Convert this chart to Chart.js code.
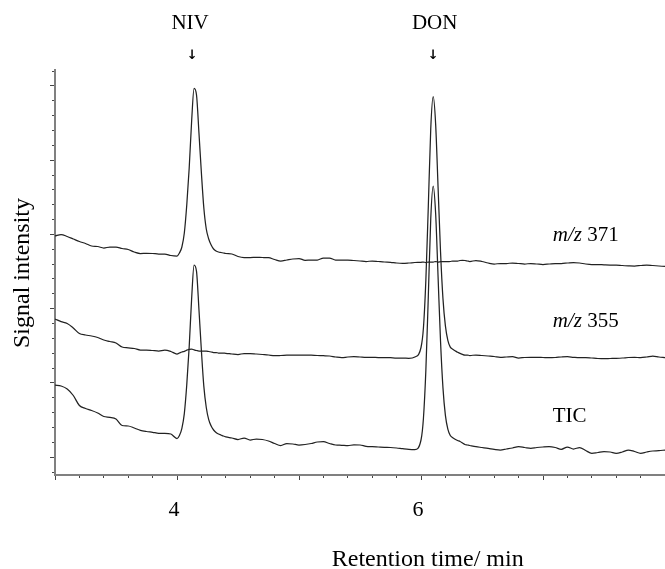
<!DOCTYPE html>
<html>
<head>
<meta charset="utf-8">
<style>
html,body{margin:0;padding:0;background:#fff;}
#wrap{width:665px;height:569px;position:relative;}
</style>
<script src="https://cdn.jsdelivr.net/npm/chart.js@4.4.1/dist/chart.umd.min.js"></script>
</head>
<body>
<div id="wrap"><canvas id="c" width="665" height="569"></canvas></div>
<script>
// Retention time (min)
const times = [
  3, 3.05, 3.1, 3.15, 3.2, 3.25, 3.3, 3.35, 3.4, 3.45, 3.5, 3.55, 3.6, 3.65, 3.7, 3.75, 3.8, 3.85, 3.9, 3.95,
  4, 4.02, 4.04, 4.06, 4.08, 4.1, 4.12, 4.14, 4.16, 4.18, 4.2, 4.22, 4.24, 4.26, 4.28, 4.3, 4.32, 4.34, 4.36, 4.38, 4.4,
  4.45, 4.5, 4.55, 4.6, 4.65, 4.7, 4.75, 4.8, 4.85, 4.9, 4.95, 5, 5.05, 5.1, 5.15, 5.2, 5.25, 5.3, 5.35, 5.4, 5.45, 5.5, 5.55, 5.6, 5.65, 5.7, 5.75, 5.8, 5.85, 5.9, 5.95,
  6, 6.02, 6.04, 6.06, 6.08, 6.1, 6.12, 6.14, 6.16, 6.18, 6.2, 6.22, 6.24, 6.26, 6.28, 6.3, 6.32, 6.34, 6.36, 6.38, 6.4,
  6.45, 6.5, 6.55, 6.6, 6.65, 6.7, 6.75, 6.8, 6.85, 6.9, 6.95, 7, 7.05, 7.1, 7.15, 7.2, 7.25, 7.3, 7.35, 7.4, 7.45, 7.5, 7.55, 7.6, 7.65, 7.7, 7.75, 7.8, 7.85, 7.9, 7.95, 8
];

// Signal intensity (arbitrary units, traces offset)
const mz371 = [
  236, 237.5, 235.5, 233, 230.5, 228.5, 226, 225.5, 224, 225, 225, 223.5, 222.5, 220, 218.5, 218.7, 218.5, 218, 218, 216.5,
  216, 219, 225, 239, 267, 304, 351, 383.7, 377, 339, 299, 264, 243, 233, 227, 223, 221, 220, 219.5, 219, 218.5,
  218, 215.5, 214.5, 214.5, 214.7, 214.5, 214.3, 212.5, 211, 212, 213, 213.5, 211.7, 212, 212, 214, 214, 212, 212, 212, 211.5, 211, 210.5, 211, 210.5, 210, 209.7, 209, 208.7, 209, 209.5,
  209.7, 210, 209.5, 210, 210, 210, 210.5, 210, 210.3, 210.5, 210.5, 210.3, 210.5, 211, 211, 211, 211.5, 211.7, 211.5, 211, 210.5,
  211.5, 210.5, 209, 208, 208.5, 208.5, 209, 208.5, 208, 208.5, 208, 207.5, 208, 208.5, 208.5, 209, 209.5, 209, 208, 207.5, 207.5, 207.2, 207, 207, 206.5, 206.2, 206, 206.5, 207, 206.5, 206, 205.5
];
const mz355 = [
  153, 150.3, 148.5, 144, 138.5, 137, 136, 134.5, 132, 130.5, 129, 125, 124.2, 123.5, 122, 122, 121.5, 121, 121.8, 120.5,
  118, 119, 120, 120.7, 121.8, 122.7, 123, 122.2, 121.5, 121, 121, 120.8, 121, 120.5, 120, 119.5, 119.5, 119, 119, 118.8, 118.7,
  118, 117.5, 118.5, 118.5, 118, 117.5, 117, 116.3, 116.5, 116.8, 117, 117, 117, 116.8, 116.5, 116.3, 116, 115, 114.3, 115, 115.3, 115, 114.7, 114.7, 114.5, 114.5, 114.3, 114, 114, 113.7, 115,
  124.5, 144.2, 192.5, 266, 343.5, 375.3, 347.9, 284.5, 220.6, 173.4, 146.1, 131.7, 124.9, 122.8, 121.2, 119.7, 118.6, 117.6, 117, 117, 116.5,
  117, 116.5, 116, 115.5, 114.7, 115, 115.3, 114, 114.5, 114.7, 114.7, 114.5, 114.3, 114.5, 115, 115.3, 114.7, 114.3, 114.5, 114, 113.5, 113.3, 113.5, 113.7, 114, 114.5, 114.7, 114.3, 115, 116, 115, 114.3
];
const tic = [
  87, 86, 83, 76.5, 66.5, 63.5, 61.5, 59, 55.5, 54.7, 53, 46.5, 46, 44, 41.7, 40.5, 39.7, 38.7, 38.7, 38,
  33.5, 36.5, 43.7, 58.4, 87.2, 125.4, 173.5, 207, 200.7, 162.3, 121.3, 85.6, 64.5, 52.3, 46, 42, 39.5, 38, 37, 36, 35.2,
  34, 32.5, 34, 32, 33, 32.5, 31, 28.5, 26.5, 28.5, 28, 27, 27.5, 28.5, 30, 30.3, 28.5, 27, 26.7, 26.3, 27.2, 27, 25.7, 25.3, 25, 24.7, 24.5, 24, 23.3, 22.7, 22.5,
  32, 53.8, 102.2, 176, 253.6, 286, 258.5, 195, 130.9, 84.1, 56.6, 42.8, 36.5, 34.3, 32.8, 31.5, 30.5, 29, 27.5, 27, 26.5,
  25.3, 24.5, 23.7, 22.7, 22, 23, 24, 25.3, 24.5, 23.7, 24.5, 25, 25.3, 24.5, 22.7, 25, 23, 24.5, 21.5, 18.7, 19.5, 20.3, 20, 18.7, 20, 22, 20.5, 18.7, 20, 21, 21.3, 22
];

const xTickLabels = [4, 6];
const peakNames = ['NIV', 'DON'];
const peakTimes = [4.14, 6.10];
const traceNames = [['m/z', ' 371'], ['m/z', ' 355'], ['', 'TIC']];

const SERIF = '"Liberation Serif", "Times New Roman", serif';
Chart.defaults.font.family = SERIF;

// Text placement (styles/positions kept apart from the data)
const textLayout = {
  peakNameY: 29, peakNameDx: [-4, 1.5],
  arrowY: 56, arrowDx: [-2, 0],
  traceLabelTime: 7.08, traceLabelValues: [231.3, 145.3, 50.3],
  xTitle: 'Retention time/ min', xTitleTime: 6.055, xTitleY: 566,
  yTitle: 'Signal intensity', yTitleValue: 199, yTitleX: 29
};

const Y_STEP = 14.85;
function isMajorY(c) {
  if (!c.tick) return false;
  return Math.round(c.tick.value / Y_STEP) % 5 === 1;
}
function isMajorX(c) {
  if (!c.tick) return false;
  return Math.abs(c.tick.value - Math.round(c.tick.value)) < 1e-6;
}

const annotate = {
  id: 'annotate',
  afterDraw(chart) {
    const ctx = chart.ctx, xs = chart.scales.x, ys = chart.scales.y, L = textLayout;
    ctx.save();
    ctx.fillStyle = '#000';
    peakNames.forEach((name, i) => {
      const px = xs.getPixelForValue(peakTimes[i]);
      ctx.font = '21px ' + SERIF;
      ctx.textAlign = 'center';
      ctx.textBaseline = 'alphabetic';
      ctx.fillText(name, px + L.peakNameDx[i], L.peakNameY);
      ctx.font = 'bold 13px "DejaVu Sans", sans-serif';
      ctx.textBaseline = 'middle';
      ctx.fillText('\u2193', px + L.arrowDx[i], L.arrowY);
    });
    ctx.textAlign = 'left';
    ctx.textBaseline = 'alphabetic';
    traceNames.forEach((parts, i) => {
      let x = xs.getPixelForValue(L.traceLabelTime);
      const y = ys.getPixelForValue(L.traceLabelValues[i]);
      if (parts[0]) {
        ctx.font = 'italic 21px ' + SERIF;
        ctx.fillText(parts[0], x, y);
        x += ctx.measureText(parts[0]).width;
      }
      ctx.font = '21px ' + SERIF;
      ctx.fillText(parts[1], x, y);
    });
    ctx.font = '24px ' + SERIF;
    ctx.textAlign = 'center';
    ctx.fillText(L.xTitle, xs.getPixelForValue(L.xTitleTime), L.xTitleY);
    ctx.translate(L.yTitleX, ys.getPixelForValue(L.yTitleValue));
    ctx.rotate(-Math.PI / 2);
    ctx.fillText(L.yTitle, 0, 0);
    ctx.restore();
  }
};

function toPoints(arr) { return arr.map((v, i) => ({ x: times[i], y: v })); }

const lineStyle = { borderColor: '#222', borderWidth: 1.25, pointRadius: 0, fill: false, cubicInterpolationMode: 'monotone' };

new Chart(document.getElementById('c'), {
  type: 'line',
  data: {
    datasets: [
      Object.assign({ label: 'm/z 371', data: toPoints(mz371) }, lineStyle),
      Object.assign({ label: 'm/z 355', data: toPoints(mz355) }, lineStyle),
      Object.assign({ label: 'TIC', data: toPoints(tic) }, lineStyle)
    ]
  },
  options: {
    responsive: false,
    animation: false,
    events: [],
    layout: { padding: { left: 0, top: 70, right: 0, bottom: 0 } },
    plugins: { legend: { display: false }, tooltip: { enabled: false } },
    scales: {
      x: {
        type: 'linear', position: 'bottom', min: 3, max: 8,
        afterFit(s) { s.height = 94; s.paddingLeft = 0; s.paddingRight = 0; },
        border: { display: true, color: '#808080', width: 2 },
        grid: {
          drawOnChartArea: false, drawTicks: true, tickLength: 5, tickColor: '#444', tickWidth: 1,
          tickBorderDash: c => isMajorX(c) ? [] : [2, 10]
        },
        ticks: {
          stepSize: 0.2, autoSkip: false, maxRotation: 0, minRotation: 0, includeBounds: false,
          padding: 17, labelOffset: -3, color: '#000', font: { size: 22, family: SERIF },
          callback: v => xTickLabels.some(k => Math.abs(k - v) < 1e-6) ? String(Math.round(v)) : ''
        }
      },
      y: {
        type: 'linear', position: 'left', min: -3, max: 402,
        afterFit(s) { s.width = 55; s.paddingTop = 0; s.paddingBottom = 0; },
        border: { display: true, color: '#808080', width: 2 },
        grid: {
          drawOnChartArea: false, drawTicks: true, tickLength: 5, tickColor: '#444', tickWidth: 1,
          tickBorderDash: c => isMajorY(c) ? [] : [2, 2],
          tickBorderDashOffset: c => isMajorY(c) ? 0 : 2
        },
        ticks: { stepSize: Y_STEP, includeBounds: false, display: false }
      }
    }
  },
  plugins: [annotate]
});
</script>
</body>
</html>
